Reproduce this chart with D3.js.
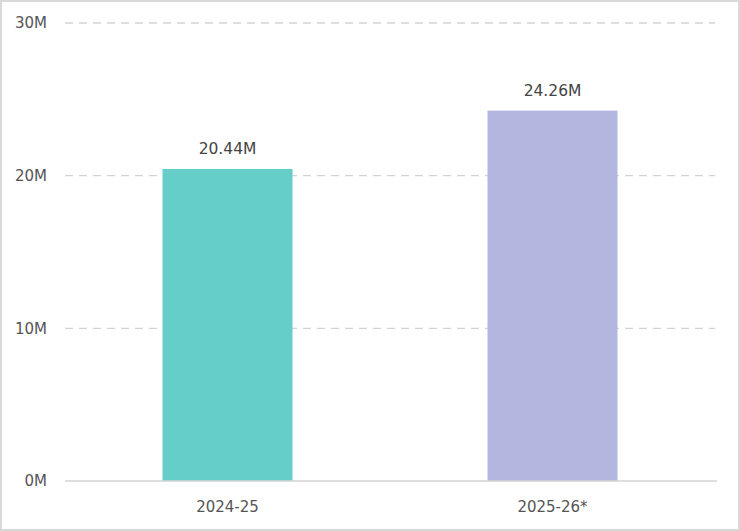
<!DOCTYPE html>
<html><head><meta charset="utf-8">
<script src="https://cdn.jsdelivr.net/npm/d3@7"></script>
<style>
html,body{margin:0;padding:0;background:#fff;}
svg{display:block;}
</style></head>
<body>
<script>
const categories = ["2024-25", "2025-26*"];
const values = [20.44, 24.26];
const valueLabels = ["20.44M", "24.26M"];
const colors = ["#66cec9", "#b3b6df"];
const yTicks = [0, 10, 20, 30];

const W = 740, H = 531;
const m = {left: 65, right: 25, top: 23, bottom: 50};
const svg = d3.select("body").append("svg").attr("width", W).attr("height", H);

svg.append("rect").attr("x", 1).attr("y", 1).attr("width", W - 2).attr("height", H - 2)
  .attr("fill", "#fff").attr("stroke", "#d9d9d9").attr("stroke-width", 2);

const x = d3.scaleBand().domain(categories).range([m.left, W - m.right]).padding(0);
const y = d3.scaleLinear().domain([0, 30]).range([H - m.bottom, m.top]);

const font = "'DejaVu Sans', sans-serif";

// grid
svg.append("g").selectAll("line").data(yTicks.filter(d => d > 0)).join("line")
  .attr("x1", m.left).attr("x2", W - m.right)
  .attr("y1", d => y(d)).attr("y2", d => y(d))
  .attr("stroke", "#d3d3d3").attr("stroke-width", 1.3).attr("stroke-dasharray", "8,6");

// y axis labels
const yAxis = d3.axisLeft(y).tickValues(yTicks).tickSize(0).tickPadding(18).tickFormat(d => d + "M");
svg.append("g").attr("transform", `translate(${m.left},0)`).call(yAxis)
  .call(g => g.select(".domain").remove())
  .call(g => g.selectAll("text").attr("font-family", font).attr("font-size", 15).attr("fill", "#555"));

// bars
const bw = x.bandwidth() * 0.4;
svg.append("g").selectAll("rect").data(values).join("rect")
  .attr("x", (d, i) => x(categories[i]) + x.bandwidth() / 2 - bw / 2)
  .attr("width", bw)
  .attr("y", d => y(d))
  .attr("height", d => y(0) - y(d))
  .attr("fill", (d, i) => colors[i]);

// value labels
svg.append("g").selectAll("text").data(values).join("text")
  .attr("x", (d, i) => x(categories[i]) + x.bandwidth() / 2)
  .attr("y", d => y(d) - 15)
  .attr("text-anchor", "middle")
  .attr("font-family", font).attr("font-size", 15.5).attr("fill", "#444")
  .text((d, i) => valueLabels[i]);

// baseline
svg.append("line").attr("x1", m.left).attr("x2", W - m.right + 2)
  .attr("y1", y(0)).attr("y2", y(0)).attr("stroke", "#d3d3d3").attr("stroke-width", 1.5);

// x axis labels
const xAxis = d3.axisBottom(x).tickSize(0).tickPadding(20);
svg.append("g").attr("transform", `translate(0,${y(0)})`).call(xAxis)
  .call(g => g.select(".domain").remove())
  .call(g => g.selectAll("text").attr("font-family", font).attr("font-size", 15).attr("fill", "#555"));
</script>
</body></html>
